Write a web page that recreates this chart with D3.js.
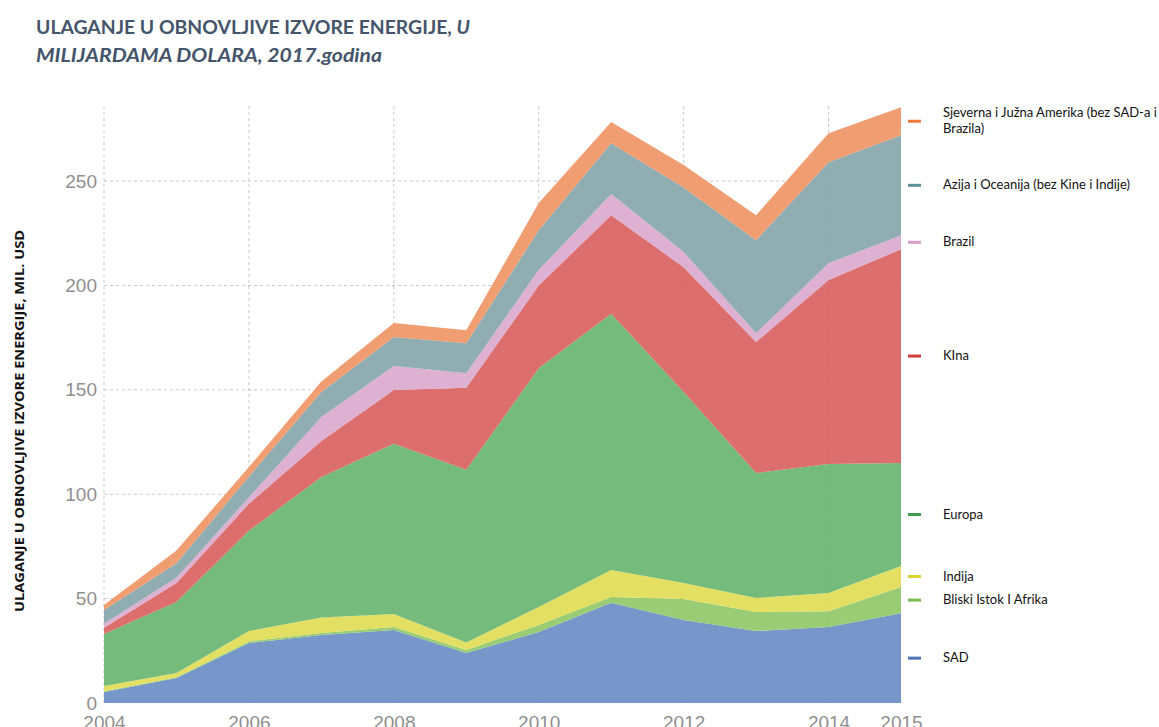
<!DOCTYPE html>
<html>
<head>
<meta charset="utf-8">
<script src="https://cdn.jsdelivr.net/npm/d3@7"></script>
<style>
  body { margin: 0; background: #fff; }
  svg { display: block; }
</style>
</head>
<body>
<div id="chart"></div>
<script>

// data (billions USD)
const years = [2004, 2005, 2006, 2007, 2008, 2009, 2010, 2011, 2012, 2013, 2014, 2015];
const sad     = [5.3, 12, 28.7, 32.6, 35, 24, 34, 48, 39.8, 34.5, 36.4, 43];
const bliski  = [0.3, 0.3, 0.8, 0.9, 1.4, 1.4, 3.4, 2.8, 10, 9.1, 7.6, 12.6];
const indija  = [2.5, 2.1, 5, 7.5, 6.2, 3.6, 8.6, 12.9, 7.7, 6.7, 8.7, 10];
const europa  = [24.9, 34, 48, 67.3, 81.6, 82.8, 114.4, 122.8, 91.5, 59.9, 61.8, 49.4];
const kina    = [3, 9.1, 13, 17.2, 25.8, 39.2, 39.6, 47.2, 59.8, 62.7, 88.1, 102.4];
const brazil  = [2, 2.5, 3, 11.5, 11.4, 7, 7.4, 10.1, 7.2, 4.3, 8.1, 6.6];
const azija   = [6.5, 7, 10, 12, 13.9, 14.4, 19.1, 24.4, 31, 44.5, 48.3, 48];
const amerika = [2.5, 6, 4.5, 5, 6.7, 6.2, 13, 10.1, 10.7, 12, 14, 13.4];

const xTicks = [2004, 2006, 2008, 2010, 2012, 2014, 2015];
const yTicks = [0, 50, 100, 150, 200, 250];

// bottom to top
const series = [
    {key: 'sad', name: ['SAD'], values: sad, fill: '#7090c6', dash: '#4f73b8'},
    {key: 'bliski', name: ['Bliski Istok I Afrika'], values: bliski, fill: '#94c96e', dash: '#79bb4e'},
    {key: 'indija', name: ['Indija'], values: indija, fill: '#e1dd5b', dash: '#ddd331'},
    {key: 'europa', name: ['Europa'], values: europa, fill: '#6db775', dash: '#3e9f4b'},
    {key: 'kina', name: ['KIna'], values: kina, fill: '#da6666', dash: '#d33c3c'},
    {key: 'brazil', name: ['Brazil'], values: brazil, fill: '#dcaccf', dash: '#d79cc7'},
    {key: 'azija', name: ['Azija i Oceanija (bez Kine i Indije)'], values: azija, fill: '#8aaaae', dash: '#5e9195'},
    {key: 'amerika', name: ['Sjeverna i Južna Amerika (bez SAD-a i', 'Brazila)'], values: amerika, fill: '#f0986a', dash: '#ef7a3e'}
];

const W = 1159, H = 727;
const margin = ({top: 106, right: 258, bottom: 24, left: 104});

const svg = d3.select('#chart')
    .append('svg')
    .attr('width', W)
    .attr('height', H);

const xScale = d3.scaleLinear()
    .domain([2004, 2015])
    .range([margin.left, W - margin.right]);

const yScale = d3.scaleLinear()
    .domain([0, 286])
    .range([H - margin.bottom, margin.top]);

// title (two lines)
const titleFont = t => t
    .attr('font-family', 'Lato, "Open Sans", sans-serif')
    .attr('font-weight', 700)
    .attr('font-size', 19)
    .attr('fill', '#44546a')
    .attr('lengthAdjust', 'spacingAndGlyphs');

const t1 = svg.append('text').call(titleFont)
    .attr('x', 36).attr('y', 34)
    .attr('textLength', 434);
t1.append('tspan').text('ULAGANJE U OBNOVLJIVE IZVORE ENERGIJE, ');
t1.append('tspan').attr('font-style', 'italic').text('U');

svg.append('text').call(titleFont)
    .attr('x', 36).attr('y', 62)
    .attr('textLength', 346)
    .attr('font-style', 'italic')
    .text('MILIJARDAMA DOLARA, 2017.godina');

// grid
const grid = svg.append('g').attr('class', 'grid');
grid.selectAll('.hgrid')
    .data(yTicks.filter(d => d > 0))
    .join('line')
    .attr('x1', margin.left).attr('x2', W - margin.right)
    .attr('y1', d => yScale(d)).attr('y2', d => yScale(d))
    .attr('stroke', '#c8c8c8')
    .attr('stroke-dasharray', '3,3');
grid.selectAll('.vgrid')
    .data(xTicks.filter(d => d < 2015))
    .join('line')
    .attr('x1', d => xScale(d)).attr('x2', d => xScale(d))
    .attr('y1', margin.top).attr('y2', H - margin.bottom)
    .attr('stroke', '#c8c8c8')
    .attr('stroke-dasharray', '3,3');

// stacked areas
const table = years.map((y, i) => {
    const row = {year: y};
    series.forEach(s => { row[s.key] = s.values[i]; });
    return row;
});

const stack = d3.stack().keys(series.map(s => s.key));
const layers = stack(table);

const area = d3.area()
    .x(d => xScale(d.data.year))
    .y0(d => yScale(d[0]))
    .y1(d => yScale(d[1]));

svg.append('g')
    .selectAll('path')
    .data(layers)
    .join('path')
    .attr('d', area)
    .attr('fill', (d, i) => series[i].fill)
    .attr('fill-opacity', 0.95);

// axes
const yAxis = d3.axisLeft(yScale)
    .tickValues(yTicks)
    .tickSize(0)
    .tickPadding(7);

svg.append('g')
    .attr('class', 'axis y-axis')
    .attr('transform', 'translate(' + margin.left + ',0)')
    .call(yAxis)
    .call(g => g.select('.domain').remove());

const xAxis = d3.axisBottom(xScale)
    .tickValues(xTicks)
    .tickFormat(d3.format('d'))
    .tickSize(0)
    .tickPadding(13);

svg.append('g')
    .attr('class', 'axis x-axis')
    .attr('transform', 'translate(0,' + (H - margin.bottom) + ')')
    .call(xAxis)
    .call(g => g.select('.domain').remove());

svg.selectAll('.axis text')
    .attr('font-family', '"Liberation Sans", Arial, sans-serif')
    .attr('font-size', 19)
    .attr('fill', '#8f8f8f');

// y axis title
svg.append('text')
    .attr('transform', 'translate(24,' + 421 + ') rotate(-90)')
    .attr('text-anchor', 'middle')
    .attr('font-family', '"Open Sans", sans-serif')
    .attr('font-weight', 700)
    .attr('font-size', 13)
    .attr('textLength', 382)
    .attr('lengthAdjust', 'spacingAndGlyphs')
    .attr('fill', '#111')
    .text('ULAGANJE U OBNOVLJIVE IZVORE ENERGIJE, MIL. USD');

// legend at the middle of each band in the last year
const last = layers.map(l => l[l.length - 1]);
const legend = svg.append('g').attr('class', 'legend');
series.forEach((s, i) => {
    const cy = yScale((last[i][0] + last[i][1]) / 2);
    legend.append('line')
        .attr('x1', 908).attr('x2', 921)
        .attr('y1', cy).attr('y2', cy)
        .attr('stroke', s.dash)
        .attr('stroke-width', 3);
    const t = legend.append('text')
        .attr('font-family', 'Lato, "Open Sans", sans-serif')
        .attr('font-size', 13)
        .attr('fill', '#111');
    const n = s.name.length;
    s.name.forEach((line, j) => {
        t.append('tspan')
            .attr('x', 943)
            .attr('y', cy + 4 + (j - (n - 1) / 2) * 16)
            .text(line);
    });
});

</script>
</body>
</html>
